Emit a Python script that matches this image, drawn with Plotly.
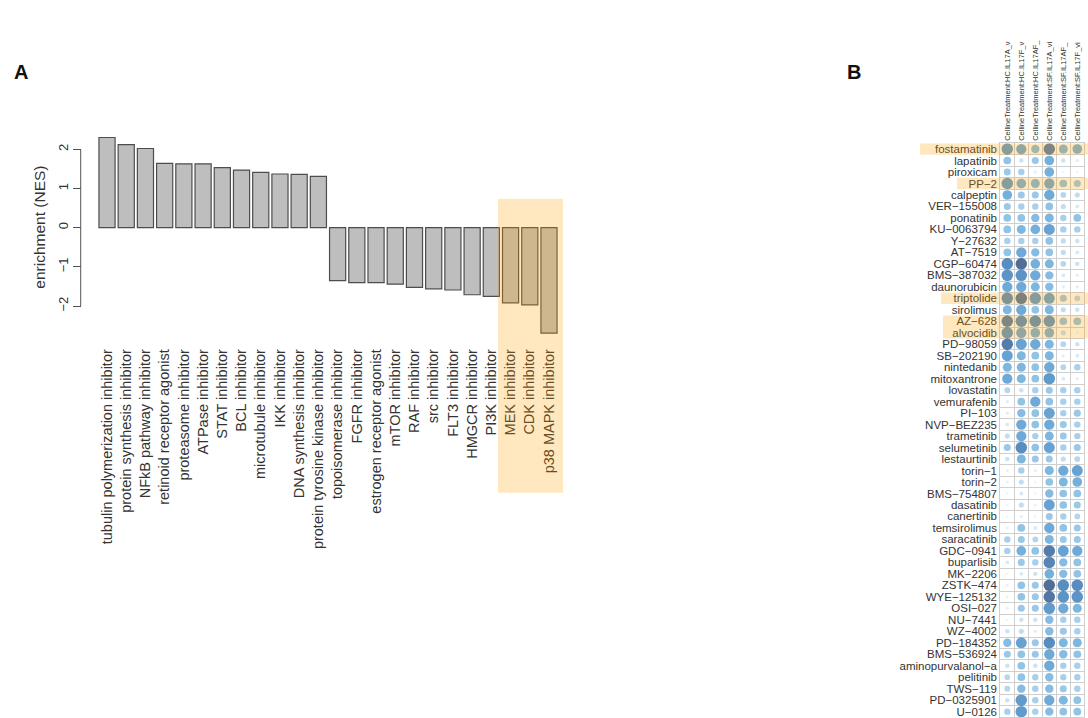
import plotly.graph_objects as go

W, H = 1088, 718

# ---------------- Panel A data ----------------
categories = [
    "tubulin polymerization inhibitor", "protein synthesis inhibitor", "NFkB pathway inhibitor",
    "retinoid receptor agonist", "proteasome inhibitor", "ATPase inhibitor", "STAT inhibitor",
    "BCL inhibitor", "microtubule inhibitor", "IKK inhibitor", "DNA synthesis inhibitor",
    "protein tyrosine kinase inhibitor", "topoisomerase inhibitor", "FGFR inhibitor",
    "estrogen receptor agonist", "mTOR inhibitor", "RAF inhibitor", "src inhibitor",
    "FLT3 inhibitor", "HMGCR inhibitor", "PI3K inhibitor", "MEK inhibitor", "CDK inhibitor",
    "p38 MAPK inhibitor",
]
nes = [2.30, 2.12, 2.02, 1.64, 1.63, 1.63, 1.53, 1.47, 1.41, 1.37, 1.36, 1.31,
       -1.35, -1.40, -1.40, -1.44, -1.52, -1.56, -1.59, -1.71, -1.75, -1.92, -1.97, -2.69]
y_ticks = [-2, -1, 0, 1, 2]

# ---------------- Panel B data ----------------
columns = [
    "CellineTreatment:HC.IL17A_v", "CellineTreatment:HC.IL17F_v", "CellineTreatment:HC.IL17AF_",
    "CellineTreatment:SF.IL17A_vi", "CellineTreatment:SF.IL17AF_", "CellineTreatment:SF.IL17F_vi",
]
drugs = [
    "fostamatinib", "lapatinib", "piroxicam", "PP\u22122", "calpeptin", "VER\u2212155008",
    "ponatinib", "KU\u22120063794", "Y\u221227632", "AT\u22127519", "CGP\u221260474",
    "BMS\u2212387032", "daunorubicin", "triptolide", "sirolimus", "AZ\u2212628", "alvocidib",
    "PD\u221298059", "SB\u2212202190", "nintedanib", "mitoxantrone", "lovastatin", "vemurafenib",
    "PI\u2212103", "NVP\u2212BEZ235", "trametinib", "selumetinib", "lestaurtinib", "torin\u22121",
    "torin\u22122", "BMS\u2212754807", "dasatinib", "canertinib", "temsirolimus", "saracatinib",
    "GDC\u22120941", "buparlisib", "MK\u22122206", "ZSTK\u2212474", "WYE\u2212125132",
    "OSI\u2212027", "NU\u22127441", "WZ\u22124002", "PD\u2212184352", "BMS\u2212536924",
    "aminopurvalanol\u2212a", "pelitinib", "TWS\u2212119", "PD\u22120325901", "U\u22120126",
]
scores = [
    [7, 6, 4.5, 9, 5, 5.5],
    [4, 1.5, 3.5, 5.5, 1.5, 0.5],
    [3.5, 3, 0.5, 5.5, 0, 0],
    [7, 5.5, 5, 6, 4, 3.5],
    [5.5, 3.5, 3.5, 6, 2.5, 2],
    [3.5, 3, 3, 4, 2, 1],
    [4, 4, 4.5, 5, 3, 4],
    [4, 5, 5.5, 6.5, 3, 3],
    [3, 3, 3, 4, 2, 1.5],
    [4, 6, 4.5, 4, 2, 1],
    [8, 10, 5.5, 5, 2.5, 1.5],
    [7.5, 7.5, 6, 4.5, 1, 0.5],
    [6, 6, 5, 4.5, 0.5, 0.5],
    [8, 9.5, 7, 6.5, 3.5, 2.5],
    [5, 6, 4, 5, 2, 1.5],
    [9, 8, 8, 7.5, 4, 4],
    [7.5, 6, 5.5, 5.5, 2, 0],
    [9, 6.5, 6, 5, 2.5, 1.5],
    [6.5, 5, 4, 5, 0.5, 1],
    [5, 5, 4, 6, 2.5, 3],
    [6, 5, 4, 7, 1, 0.5],
    [2.5, 1.5, 3, 3.5, 3, 3],
    [0.5, 4, 6, 4, 3, 3],
    [0.5, 4.5, 4, 6.5, 3, 3.5],
    [1, 6, 4, 6, 3.5, 3],
    [2, 6, 3, 5, 3.5, 3],
    [3.5, 8, 4, 6.5, 3, 3.5],
    [1.5, 5, 3.5, 3.5, 2, 2.5],
    [0.3, 3, 0.5, 5, 6, 6.5],
    [0.3, 2, 0, 4, 5, 5.5],
    [0, 1, 0, 4.5, 4, 4],
    [0, 2, 0.3, 6.5, 4, 3.5],
    [0, 0.5, 0, 3.5, 3, 2.5],
    [0.3, 4, 1, 6, 4, 3.5],
    [3, 3.5, 2.5, 5, 3.5, 3.5],
    [3, 5.5, 4, 9, 6.5, 6],
    [1, 3.5, 3, 8.5, 4.5, 4],
    [0, 1, 1.5, 5.5, 4.5, 4],
    [0.3, 4, 3.5, 10, 8, 8],
    [0.3, 4, 3.5, 9.5, 7.5, 7.5],
    [0.3, 3.5, 3.5, 7, 6, 5],
    [0, 1.5, 1.5, 4.5, 3, 3],
    [1.5, 2, 0.5, 4.5, 3.5, 3],
    [4.5, 6.5, 3.5, 8, 5, 5],
    [3.5, 4, 3.5, 6, 4.5, 4],
    [1.5, 4, 1.5, 6, 3, 3],
    [2.5, 4, 3, 4.5, 3, 3],
    [2.5, 4.5, 3, 4.5, 3.5, 3],
    [1.5, 7, 3, 6, 5, 4],
    [3, 7, 3, 4.5, 4, 4],
]
highlighted = ["fostamatinib", "PP\u22122", "triptolide", "AZ\u2212628", "alvocidib"]
highlight_start_px = [920, 957, 941, 943, 943]


def px_x(p):
    return p / W


def px_y(p):
    return 1 - p / H


FONT = "Liberation Sans, Arial, Helvetica, sans-serif"
HL = "rgba(255,165,0,0.25)"

fig = go.Figure()

# Panel A bars
fig.add_trace(go.Bar(
    x=list(range(len(categories))), y=nes,
    marker=dict(color="#bebebe", line=dict(color="#4d4d4d", width=1.2)),
    width=0.84, xaxis="x", yaxis="y", showlegend=False, hoverinfo="x+y",
))

# Panel B dots
xs, ys, vals = [], [], []
for i, row in enumerate(scores):
    for j, v in enumerate(row):
        xs.append(j)
        ys.append(i)
        vals.append(v)
fig.add_trace(go.Scatter(
    x=xs, y=ys, mode="markers", xaxis="x2", yaxis="y2", showlegend=False,
    marker=dict(
        size=[min(11.5, 2.5 + v * 1.3) for v in vals], color=vals, cmin=0, cmax=10,
        colorscale=[[0, "#e3eef9"], [0.2, "#a9cfe9"], [0.35, "#70b1de"], [0.5, "#4598d3"],
                    [0.65, "#257bc0"], [0.8, "#115ca6"], [1, "#08306b"]],
        line=dict(width=0),
    ),
))

shapes = []
# y axis line from -2 to 2 (R-style axis)
shapes.append(dict(type="line", xref="paper", yref="y", x0=px_x(80.7), x1=px_x(80.7),
                   y0=min(y_ticks), y1=max(y_ticks), line=dict(color="#555555", width=1)))
# Panel A highlight
shapes.append(dict(type="rect", xref="paper", yref="paper",
                   x0=px_x(498), x1=px_x(563), y0=px_y(492.7), y1=px_y(198.7),
                   fillcolor=HL, line=dict(width=0), layer="above"))
# Panel B highlights
for name, x0 in zip(highlighted, highlight_start_px):
    i = drugs.index(name)
    shapes.append(dict(type="rect", xref="paper", yref="y2", x0=px_x(x0), x1=1.0,
                       y0=i - 0.5, y1=i + 0.5, fillcolor=HL, line=dict(width=0), layer="above"))

annotations = [
    dict(text="<b>A</b>", x=px_x(12), y=px_y(72), xref="paper", yref="paper",
         showarrow=False, font=dict(size=20, color="#111", family=FONT), xanchor="left", yanchor="middle"),
    dict(text="<b>B</b>", x=px_x(845), y=px_y(72), xref="paper", yref="paper",
         showarrow=False, font=dict(size=20, color="#111", family=FONT), xanchor="left", yanchor="middle"),
    dict(text="enrichment (NES)", x=px_x(40), y=0, xref="paper", yref="y",
         showarrow=False, textangle=-90, font=dict(size=15.5, color="#333", family=FONT),
         xanchor="center", yanchor="middle"),
]

fig.update_layout(
    width=W, height=H, margin=dict(l=0, r=0, t=0, b=0),
    paper_bgcolor="white", plot_bgcolor="rgba(0,0,0,0)",
    font=dict(family=FONT, color="#333"),
    shapes=shapes, annotations=annotations,
    xaxis=dict(domain=[px_x(97.4), px_x(558.6)], range=[-0.5, len(categories) - 0.5],
               tickvals=list(range(len(categories))), ticktext=categories, tickangle=-90,
               tickfont=dict(size=14.5, color="#333"), showgrid=False, zeroline=False,
               showline=False, ticks="", anchor="y"),
    yaxis=dict(domain=[px_y(345.3), px_y(133.6)], range=[-3.0, 2.4],
               tickvals=y_ticks, tickangle=-90, tickfont=dict(size=13, color="#333"),
               ticks="outside", ticklen=8, tickcolor="#555", showgrid=False, zeroline=False,
               showline=False, anchor="free", position=px_x(80.7)),
    xaxis2=dict(domain=[px_x(1000.3), px_x(1084.3)], range=[-0.5, len(columns) - 0.5],
                side="top", tickvals=list(range(len(columns))), ticktext=columns, tickangle=-90,
                tickfont=dict(size=7.5, color="#333"), showgrid=False, zeroline=False,
                showline=True, mirror=True, linecolor="#cfcfcf", linewidth=1, ticks="",
                minor=dict(tickvals=[k + 0.5 for k in range(len(columns) - 1)], showgrid=True,
                           gridcolor="#cfcfcf", gridwidth=1, ticks=""),
                anchor="y2"),
    yaxis2=dict(domain=[px_y(717.4), px_y(143.3)], range=[len(drugs) - 0.5, -0.5],
                tickvals=list(range(len(drugs))), ticktext=drugs,
                tickfont=dict(size=11.5, color="#333"), showgrid=False, zeroline=False,
                showline=True, mirror=True, linecolor="#cfcfcf", linewidth=1, ticks="",
                minor=dict(tickvals=[k + 0.5 for k in range(len(drugs) - 1)], showgrid=True,
                           gridcolor="#cfcfcf", gridwidth=1, ticks=""),
                anchor="x2"),
)

fig.write_html("out.html", config={"displayModeBar": False},
               post_script="document.body.style.margin='0px';")
